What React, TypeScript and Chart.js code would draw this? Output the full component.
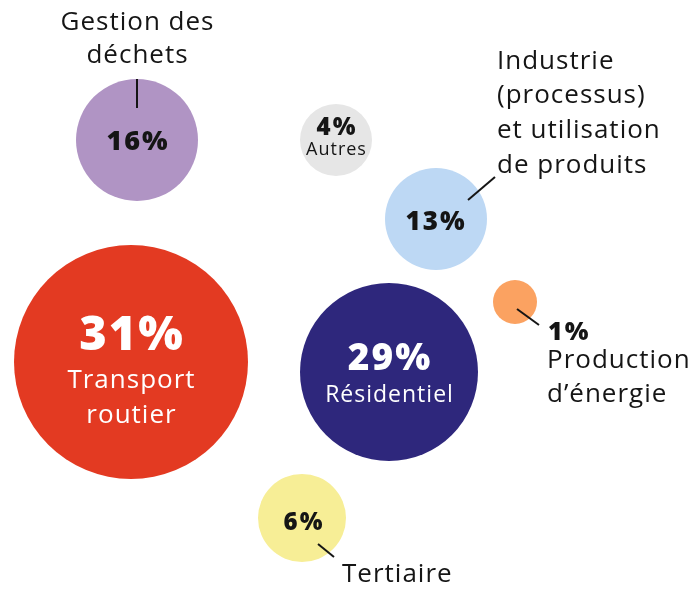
import React, { useEffect, useRef } from "react";
import { Chart, registerables } from "chart.js";

Chart.register(...registerables);

const categories = [
  "Transport routier",
  "Résidentiel",
  "Gestion des déchets",
  "Industrie (processus) et utilisation de produits",
  "Autres",
  "Tertiaire",
  "Production d’énergie",
];
const shares = [31, 29, 16, 13, 4, 6, 1];
const xValues = [131, 389, 137, 436, 336, 302, 515];
const yValues = [362, 372, 140, 219, 140, 518, 302];
const radii = [117, 89, 61, 51, 36, 44, 22];
const colors = ["#E33A22", "#2E277C", "#B094C4", "#BDD8F4", "#E6E6E6", "#F7EE96", "#FBA261"];

const FONT = "'Open Sans', 'Noto Sans', sans-serif";
const DARK = "#151515";

type Line = { text: string; size: number; bold?: boolean; dx: number; dy: number; align: CanvasTextAlign; color: string };
type Layout = { lines: Line[]; leader?: [number, number, number, number] };

// label layout relative to each bubble's centre
const layouts: Layout[] = [
  {
    lines: [
      { text: "31%", size: 47, bold: true, dx: 0, dy: -12, align: "center", color: "#fff" },
      { text: "Transport", size: 26, dx: 0, dy: 26, align: "center", color: "#fff" },
      { text: "routier", size: 26, dx: 0, dy: 61, align: "center", color: "#fff" },
    ],
  },
  {
    lines: [
      { text: "29%", size: 37, bold: true, dx: 0, dy: -2, align: "center", color: "#fff" },
      { text: "Résidentiel", size: 23, dx: 0, dy: 30, align: "center", color: "#fff" },
    ],
  },
  {
    lines: [
      { text: "16%", size: 27, bold: true, dx: 0, dy: 10, align: "center", color: DARK },
      { text: "Gestion des", size: 26, dx: 0, dy: -110, align: "center", color: DARK },
      { text: "déchets", size: 26, dx: 0, dy: -77, align: "center", color: DARK },
    ],
    leader: [0, -61, 0, -32],
  },
  {
    lines: [
      { text: "13%", size: 26, bold: true, dx: -1, dy: 11, align: "center", color: DARK },
      { text: "Industrie", size: 26, dx: 61, dy: -150, align: "left", color: DARK },
      { text: "(processus)", size: 26, dx: 61, dy: -116, align: "left", color: DARK },
      { text: "et utilisation", size: 26, dx: 61, dy: -81, align: "left", color: DARK },
      { text: "de produits", size: 26, dx: 61, dy: -46, align: "left", color: DARK },
    ],
    leader: [32, -19, 59, -42],
  },
  {
    lines: [
      { text: "4%", size: 24, bold: true, dx: 0, dy: -5, align: "center", color: DARK },
      { text: "Autres", size: 18, dx: 0, dy: 15, align: "center", color: DARK },
    ],
  },
  {
    lines: [
      { text: "6%", size: 24, bold: true, dx: 1, dy: 12, align: "center", color: DARK },
      { text: "Tertiaire", size: 26, dx: 40, dy: 64, align: "left", color: DARK },
    ],
    leader: [16, 26, 32, 39],
  },
  {
    lines: [
      { text: "1%", size: 25, bold: true, dx: 33, dy: 38, align: "left", color: DARK },
      { text: "Production", size: 26, dx: 32, dy: 66, align: "left", color: DARK },
      { text: "d’énergie", size: 26, dx: 32, dy: 100, align: "left", color: DARK },
    ],
    leader: [2, 7, 24, 23],
  },
];

const labelPlugin = {
  id: "bubbleLabels",
  afterDatasetsDraw(chart: any) {
    const ctx: any = chart.ctx;
    const meta = chart.getDatasetMeta(0);
    meta.data.forEach((el: any, i: number) => {
      const lay = layouts[i];
      if (!lay) return;
      ctx.save();
      if (lay.leader) {
        const [x1, y1, x2, y2] = lay.leader;
        ctx.strokeStyle = DARK;
        ctx.lineWidth = 2;
        ctx.beginPath();
        ctx.moveTo(el.x + x1, el.y + y1);
        ctx.lineTo(el.x + x2, el.y + y2);
        ctx.stroke();
      }
      ctx.textBaseline = "alphabetic";
      lay.lines.forEach((ln) => {
        ctx.font = `${ln.bold ? "800" : "400"} ${ln.size}px ${FONT}`;
        ctx.letterSpacing = ln.bold ? "2px" : "1px";
        ctx.fillStyle = ln.color;
        ctx.textAlign = ln.align;
        const shift = ln.align === "center" ? (ln.bold ? 1 : 0.5) : 0;
        ctx.fillText(ln.text, el.x + ln.dx + shift, el.y + ln.dy);
      });
      ctx.letterSpacing = "0px";
      ctx.restore();
    });
  },
};

export default function App() {
  const ref = useRef<HTMLCanvasElement | null>(null);
  useEffect(() => {
    document.body.style.margin = "0";
    if (!ref.current) return;
    const chart = new Chart(ref.current, {
      type: "bubble",
      data: {
        labels: categories,
        datasets: [
          {
            label: "Part des émissions",
            data: shares.map((s, i) => ({ x: xValues[i], y: yValues[i], r: radii[i], share: s })) as any,
            backgroundColor: colors,
            borderWidth: 0,
            hoverBorderWidth: 0,
            clip: false as any,
          },
        ],
      },
      options: {
        animation: false,
        responsive: true,
        maintainAspectRatio: false,
        layout: { padding: 0, autoPadding: false } as any,
        plugins: { legend: { display: false }, tooltip: { enabled: false } },
        scales: {
          x: { type: "linear", min: 0, max: 693, display: false },
          y: { type: "linear", min: 0, max: 589, reverse: true, display: false },
        },
      },
      plugins: [labelPlugin],
    });
    return () => chart.destroy();
  }, []);
  return (
    <div style={{ width: 693, height: 589, position: "relative", background: "#fff" }}>
      <canvas ref={ref} />
    </div>
  );
}
